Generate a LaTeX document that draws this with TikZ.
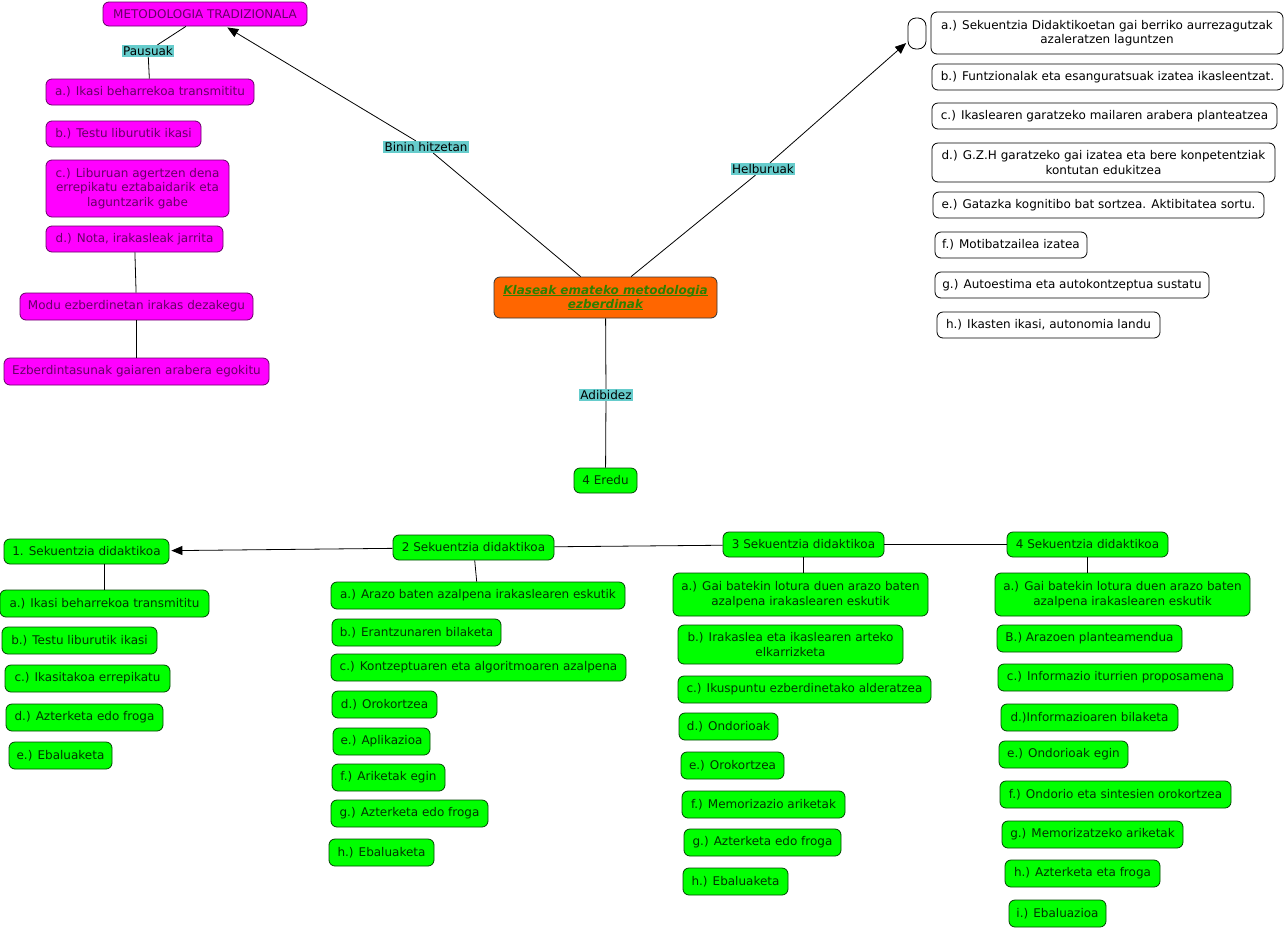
\documentclass[tikz,border=0pt]{standalone}
\usepackage{fontspec}
\setmainfont{DejaVu Sans}
\usetikzlibrary{arrows.meta}
\definecolor{mag}{HTML}{FF00FF}
\definecolor{magtext}{HTML}{660066}
\definecolor{grn}{HTML}{00FF00}
\definecolor{grndark}{HTML}{004400}
\definecolor{grntext}{HTML}{003300}
\definecolor{orng}{HTML}{FF6600}
\definecolor{ctext}{HTML}{2E8000}
\definecolor{cyanl}{HTML}{66CCCC}
\newcommand\myfs{\fontsize{12}{14.5}\selectfont}
\newcommand\myul[1]{\setbox0\hbox{#1}\rlap{\rule[-1.6pt]{\wd0}{1pt}}\box0}
\tikzset{
 base/.style={rounded corners=6pt, inner sep=0pt, align=center, font=\myfs, line width=0.8pt},
 mbox/.style={base, fill=mag, draw=magtext, text=magtext},
 gbox/.style={base, fill=grn, draw=grndark, text=grntext},
 wbox/.style={base, fill=white, draw=black, text=black},
 obox/.style={base, fill=orng, draw=black!80, text=ctext, font=\myfs\bfseries\itshape},
 lbl/.style={fill=cyanl, inner sep=1.3pt, font=\myfs, text=black},
 conn/.style={line width=0.8pt, draw=black},
 arr/.style={conn, -{Triangle[length=11pt,width=9pt]}, shorten >=2pt},
 sz/.style 2 args={minimum width=#1pt, minimum height=#2pt},
}
\begin{document}
\begin{tikzpicture}[x=1pt,y=-1pt]
\useasboundingbox (0,0) rectangle (1286,930);
% ---- top-left magenta column
\node[mbox, sz={204}{24}] (meto) at (205,14) {METODOLOGIA TRADIZIONALA};
\node[lbl] (pausu) at (148,51) {Pausuak};
\node[mbox, sz={208}{26}] (ma) at (150,92) {a.) Ikasi beharrekoa transmititu};
\node[mbox, sz={155}{26}] (mb) at (123.5,134) {b.) Testu liburutik ikasi};
\node[mbox, sz={183}{57}] (mc) at (137.5,188.5) {c.) Liburuan agertzen dena\\errepikatu eztabaidarik eta\\laguntzarik gabe};
\node[mbox, sz={177}{26}] (md) at (134.5,239) {d.) Nota, irakasleak jarrita};
\node[mbox, sz={233}{27}] (modu) at (136.5,306.5) {Modu ezberdinetan irakas dezakegu};
\node[mbox, sz={265}{27}] (ezb) at (136.5,371.5) {Ezberdintasunak gaiaren arabera egokitu};
\draw[conn] (meto) -- (pausu);
\draw[conn] (pausu) -- (ma);
\draw[conn] (md) -- (modu);
\draw[conn] (modu) -- (ezb);
% ---- centre
\node[obox, sz={223}{41}] (klase) at (605.5,297.5) {\myul{Klaseak emateko metodologia}\\\myul{ezberdinak}};
\node[lbl] (bin) at (426,147) {Binin hitzetan};
\node[lbl] (helb) at (763,169) {Helburuak};
\node[lbl] (adib) at (606,395) {Adibidez};
\node[gbox, sz={63}{25}] (eredu) at (605.5,480.5) {4 Eredu};
\draw[conn] (klase) -- (bin);
\draw[arr] (bin) -- (meto);
\draw[conn] (klase) -- (helb);
\draw[conn] (klase) -- (adib);
\draw[conn] (adib) -- (eredu);
% ---- right white column
\node[wbox, rounded corners=8pt, sz={18}{31}] (empty) at (917,33.5) {};
\draw[arr] (helb) -- (empty);
\node[wbox, sz={352}{42}] (wa) at (1107,33) {a.) Sekuentzia Didaktikoetan gai berriko aurrezagutzak\\azaleratzen laguntzen};
\node[wbox, sz={351}{26}] (wb) at (1107.5,77) {b.) Funtzionalak eta esanguratsuak izatea ikasleentzat.};
\node[wbox, sz={345}{26}] (wc) at (1104.5,116) {c.) Ikaslearen garatzeko mailaren arabera planteatzea};
\node[wbox, sz={343}{39}] (wd) at (1103.5,162.5) {d.) G.Z.H garatzeko gai izatea eta bere konpetentziak\\kontutan edukitzea};
\node[wbox, sz={331}{26}] (we) at (1098.5,205) {e.) Gatazka kognitibo bat sortzea. Aktibitatea sortu.};
\node[wbox, sz={152}{26}] (wf) at (1011,245) {f.) Motibatzailea izatea};
\node[wbox, sz={274}{26}] (wg) at (1072,285) {g.) Autoestima eta autokontzeptua sustatu};
\node[wbox, sz={223}{26}] (wh) at (1048.5,325) {h.) Ikasten ikasi, autonomia landu};
% ---- sequence 1
\node[gbox, sz={165}{25}] (s1) at (86.5,551.5) {1. Sekuentzia didaktikoa};
\node[gbox, sz={209}{27}] (s1a) at (104.5,603.5) {a.) Ikasi beharrekoa transmititu};
\node[gbox, sz={155}{27}] (s1b) at (79.5,640.5) {b.) Testu liburutik ikasi};
\node[gbox, sz={165}{27}] (s1c) at (87.5,678.5) {c.) Ikasitakoa errepikatu};
\node[gbox, sz={157}{27}] (s1d) at (84.5,717.5) {d.) Azterketa edo froga};
\node[gbox, sz={103}{27}] (s1e) at (60.5,755.5) {e.) Ebaluaketa};
\draw[conn] (s1a.north |- s1.south) -- (s1a.north);
% ---- sequence 2
\node[gbox, sz={161}{25}] (s2) at (473.5,547.5) {2 Sekuentzia didaktikoa};
\node[gbox, sz={294}{27}] (s2a) at (478,595.5) {a.) Arazo baten azalpena irakaslearen eskutik};
\node[gbox, sz={169}{27}] (s2b) at (416.5,632.5) {b.) Erantzunaren bilaketa};
\node[gbox, sz={295}{27}] (s2c) at (478.5,667.5) {c.) Kontzeptuaren eta algoritmoaren azalpena};
\node[gbox, sz={105}{27}] (s2d) at (384.5,704.5) {d.) Orokortzea};
\node[gbox, sz={97}{27}] (s2e) at (381.5,741.5) {e.) Aplikazioa};
\node[gbox, sz={113}{27}] (s2f) at (388.5,777.5) {f.) Ariketak egin};
\node[gbox, sz={157}{27}] (s2g) at (409.5,813.5) {g.) Azterketa edo froga};
\node[gbox, sz={105}{27}] (s2h) at (381.5,852.5) {h.) Ebaluaketa};
\draw[arr] (s2) -- (s1);
\draw[conn] (s2) -- (s2a);
% ---- sequence 3
\node[gbox, sz={161}{25}] (s3) at (803.5,544.5) {3 Sekuentzia didaktikoa};
\node[gbox, sz={255}{43}] (s3a) at (800.5,594.5) {a.) Gai batekin lotura duen arazo baten\\azalpena irakaslearen eskutik};
\node[gbox, sz={225}{39}] (s3b) at (790.5,644.5) {b.) Irakaslea eta ikaslearen arteko\\elkarrizketa};
\node[gbox, sz={253}{27}] (s3c) at (804.5,689.5) {c.) Ikuspuntu ezberdinetako alderatzea};
\node[gbox, sz={99}{27}] (s3d) at (728.5,726.5) {d.) Ondorioak};
\node[gbox, sz={103}{27}] (s3e) at (732.5,765.5) {e.) Orokortzea};
\node[gbox, sz={163}{27}] (s3f) at (763.5,804.5) {f.) Memorizazio ariketak};
\node[gbox, sz={157}{27}] (s3g) at (762.5,842.5) {g.) Azterketa edo froga};
\node[gbox, sz={105}{27}] (s3h) at (735.5,881.5) {h.) Ebaluaketa};
\draw[conn] (s2) -- (s3);
\draw[conn] (s3.south) -- (s3.south |- s3a.north);
% ---- sequence 4
\node[gbox, sz={161}{25}] (s4) at (1087.5,544.5) {4 Sekuentzia didaktikoa};
\node[gbox, sz={255}{43}] (s4a) at (1122.5,594.5) {a.) Gai batekin lotura duen arazo baten\\azalpena irakaslearen eskutik};
\node[gbox, sz={185}{27}] (s4b) at (1089.5,638.5) {B.) Arazoen planteamendua};
\node[gbox, sz={235}{27}] (s4c) at (1115.5,677.5) {c.) Informazio iturrien proposamena};
\node[gbox, sz={177}{27}] (s4d) at (1089.5,717.5) {d.)Informazioaren bilaketa};
\node[gbox, sz={129}{27}] (s4e) at (1063.5,754.5) {e.) Ondorioak egin};
\node[gbox, sz={231}{27}] (s4f) at (1115.5,794.5) {f.) Ondorio eta sintesien orokortzea};
\node[gbox, sz={181}{27}] (s4g) at (1092.5,834.5) {g.) Memorizatzeko ariketak};
\node[gbox, sz={155}{27}] (s4h) at (1082.5,873.5) {h.) Azterketa eta froga};
\node[gbox, sz={97}{27}] (s4i) at (1057.5,913.5) {i.) Ebaluazioa};
\draw[conn] (s3) -- (s4);
\draw[conn] (s4.south) -- (s4.south |- s4a.north);
\end{tikzpicture}
\end{document}
